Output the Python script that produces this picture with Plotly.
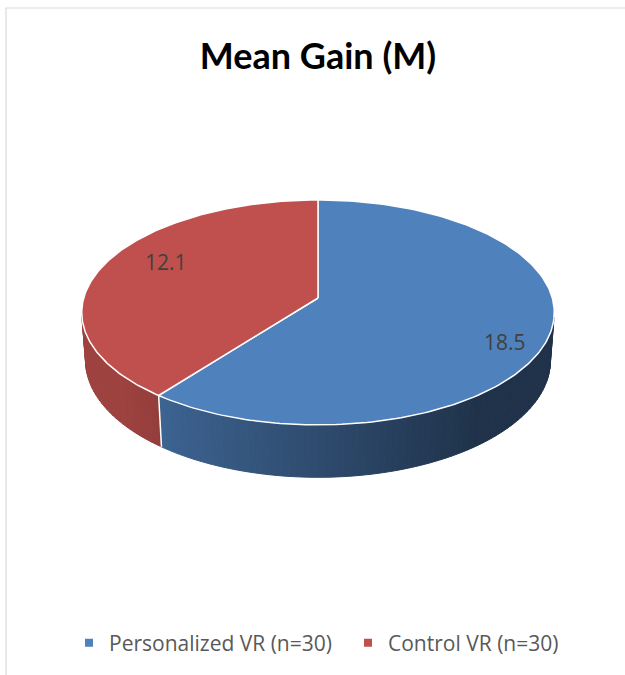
import numpy as np
import plotly.graph_objects as go

# ---------------- data ----------------
categories = ["Personalized VR (n=30)", "Control VR (n=30)"]
values = [18.5, 12.1]
value_labels = ["18.5", "12.1"]
top_colors = ["#4F81BD", "#C0504D"]
chart_title = "Mean Gain (M)"

# ---------------- geometry / style ----------------
W, H = 625, 675
CX, CY = 318, 298            # page position of the pie centre
F, D = 1605.0, 6.85          # perspective focal length / camera distance
SIN = 0.472
COS = float(np.sqrt(1 - SIN ** 2))
THICK = 0.235                # pie thickness (radius units)
label_r = 0.7
label_shift = [(27, -18), (-1, 12)]   # pixel nudges for the data labels
legend_x = [69, 348]                  # pixel left edges of the legend entries


def proj(x, y, z):
    d = D + y * COS - z * SIN
    return F * x / d, F * (y * SIN + z * COS) / d


def hex2rgb(h):
    h = h.lstrip("#")
    return tuple(int(h[i:i + 2], 16) for i in (0, 2, 4))


def shade(hexcol, f):
    r, g, b = hex2rgb(hexcol)
    return "rgb(%d,%d,%d)" % (round(r * f), round(g * f), round(b * f))


total = sum(values)
bounds = [0.0]
for v in values:
    bounds.append(bounds[-1] + 360.0 * v / total)

fig = go.Figure()

# side walls (only the faces turned to the viewer)
vis_lim = -1.0 / (D * COS)
step = 1.5
for i, col in enumerate(top_colors):
    a0, a1 = bounds[i], bounds[i + 1]
    n = max(2, int(np.ceil((a1 - a0) / step)))
    edges = np.linspace(a0, a1, n + 1)
    for ta, tb in zip(edges[:-1], edges[1:]):
        tm = np.radians((ta + tb) / 2)
        if np.cos(tm) >= vis_lim:
            continue
        ts = np.radians(np.linspace(ta, tb, 4))
        xs, ys = [], []
        for t in ts:
            px, py = proj(np.sin(t), np.cos(t), 0)
            xs.append(px); ys.append(py)
        for t in ts[::-1]:
            px, py = proj(np.sin(t), np.cos(t), -THICK)
            xs.append(px); ys.append(py)
        xs.append(xs[0]); ys.append(ys[0])
        f = min(0.82, max(0.39, 0.58 - 0.31 * np.sin(tm)))
        c = shade(col, f)
        fig.add_trace(go.Scatter(x=xs, y=ys, fill="toself", fillcolor=c,
                                 mode="lines", line=dict(color=c, width=1),
                                 hoverinfo="skip", showlegend=False))

# white vertical edges at visible slice boundaries
for b in bounds:
    t = np.radians(b)
    if np.cos(t) < vis_lim:
        p0 = proj(np.sin(t), np.cos(t), 0)
        p1 = proj(np.sin(t), np.cos(t), -THICK)
        fig.add_trace(go.Scatter(x=[p0[0], p1[0]], y=[p0[1], p1[1]], mode="lines",
                                 line=dict(color="white", width=1.5),
                                 hoverinfo="skip", showlegend=False))

# top faces
for i, col in enumerate(top_colors):
    a0, a1 = bounds[i], bounds[i + 1]
    ts = np.radians(np.linspace(a0, a1, 200))
    xs, ys = [0.0], [0.0]
    for t in ts:
        px, py = proj(np.sin(t), np.cos(t), 0)
        xs.append(px); ys.append(py)
    xs.append(0.0); ys.append(0.0)
    fig.add_trace(go.Scatter(x=xs, y=ys, fill="toself", fillcolor=col,
                             mode="lines", line=dict(color="white", width=1.5),
                             hoverinfo="skip", showlegend=False))

# data labels
for i, lab in enumerate(value_labels):
    tm = np.radians((bounds[i] + bounds[i + 1]) / 2)
    px, py = proj(label_r * np.sin(tm), label_r * np.cos(tm), 0)
    fig.add_annotation(x=px, y=py, text=lab, showarrow=False,
                       xshift=label_shift[i][0], yshift=label_shift[i][1],
                       font=dict(family="Open Sans", size=21, color="#404040"))

# legend entries (one legend box per entry so each can be placed)
legend_names = ["legend", "legend2"]
for name, col, lg in zip(categories, top_colors, legend_names):
    fig.add_trace(go.Scatter(x=[None], y=[None], mode="markers", name=name,
                             legend=lg,
                             marker=dict(symbol="square", size=8, color=col)))

legend_style = dict(orientation="h", xanchor="left", y=1 - 643 / H,
                    yanchor="middle", borderwidth=0,
                    font=dict(family="Open Sans", size=21, color="#595959"),
                    bgcolor="rgba(0,0,0,0)")

fig.update_layout(
    width=W, height=H,
    margin=dict(l=0, r=0, t=0, b=0),
    paper_bgcolor="white", plot_bgcolor="white",
    xaxis=dict(range=[-CX, W - CX], visible=False, fixedrange=True),
    yaxis=dict(range=[CY - H, CY], visible=False, fixedrange=True),
    title=dict(text="<b>%s</b>" % chart_title, x=318 / W, xanchor="center",
               y=1 - 56 / H, yanchor="middle",
               font=dict(family="Lato, Open Sans", size=36, color="black")),
    legend=dict(x=legend_x[0] / W, **legend_style),
    legend2=dict(x=legend_x[1] / W, **legend_style),
    shapes=[dict(type="rect", xref="paper", yref="paper",
                 x0=6 / W, x1=1.1, y0=-0.1, y1=1 - 8 / H,
                 line=dict(color="#D9D9D9", width=1.2),
                 fillcolor="rgba(0,0,0,0)", layer="below")],
)

fig.write_html(
    "out.html",
    config={"displayModeBar": False},
    post_script="document.body.style.margin='0';document.body.style.overflow='hidden';",
)
